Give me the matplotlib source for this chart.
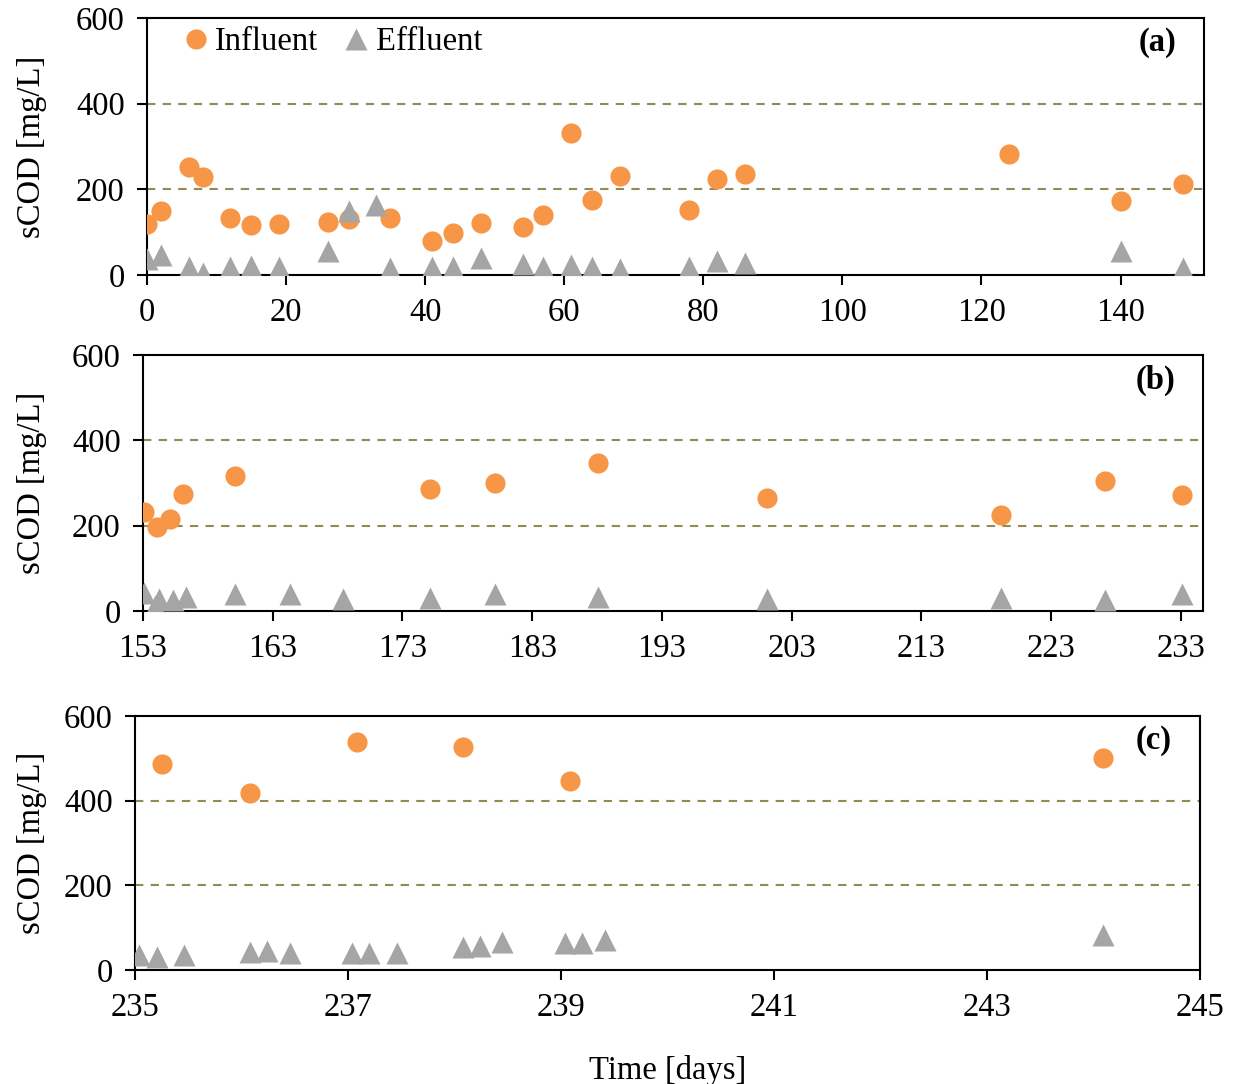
import matplotlib
matplotlib.use("Agg")
import matplotlib.pyplot as plt
import numpy as np

# panel (a): days 0-150
a_inf_day = [0, 2, 6, 8, 12, 15, 19, 26, 29, 35, 41, 44, 48, 54, 57, 61, 64, 68,
             78, 82, 86, 124, 140, 149]
a_inf_val = [119, 150, 253, 228, 133, 117, 119, 123, 130, 132, 79, 97, 121, 112, 140, 331, 174, 232,
             152, 223, 235, 283, 173, 213]
a_eff_day = [0, 2, 6, 8, 12, 15, 19, 26, 29, 33, 35, 41, 44, 48, 54, 57, 61, 64, 68,
             78, 82, 86, 140, 149]
a_eff_val = [37, 47, 18, 4, 19, 21, 19, 55, 150, 164, 16, 19, 19, 39, 26, 18, 23, 18, 13,
             19, 33, 29, 56, 17]

# panel (b): days 153-233
b_inf_day = [153.1, 154.1, 155.1, 156.1, 160.1, 175.1, 180.1, 188.1, 201.1, 219.1, 227.15, 233.1]
b_inf_val = [233, 198, 216, 275, 317, 285, 300, 346, 265, 226, 305, 272]
b_eff_day = [153.1, 153.9, 154.2, 155.3, 156.3, 160.1, 164.3, 168.4, 175.1, 180.1, 188.1,
             201.1, 219.1, 227.15, 233.1]
b_eff_val = [43, 12, 28, 25, 33, 41, 39, 29, 30, 41, 33, 29, 30, 26, 40]

# panel (c): days 235-245
c_inf_day = [235.25, 236.08, 237.08, 238.08, 239.08, 244.09]
c_inf_val = [486, 418, 538, 526, 446, 500]
c_eff_day = [235.04, 235.21, 235.46, 236.08, 236.24, 236.46, 237.04, 237.2, 237.46,
             238.08, 238.24, 238.45, 239.04, 239.2, 239.41, 244.09]
c_eff_val = [35, 31, 35, 42, 46, 39, 40, 39, 39, 54, 57, 65, 63, 63, 72, 83]

panels = [
    ("(a)", a_inf_day, a_inf_val, a_eff_day, a_eff_val, (0, 152), np.arange(0, 141, 20)),
    ("(b)", b_inf_day, b_inf_val, b_eff_day, b_eff_val, (153, 234.7), np.arange(153, 234, 10)),
    ("(c)", c_inf_day, c_inf_val, c_eff_day, c_eff_val, (235, 245), np.arange(235, 246, 2)),
]

ORANGE = "#F79646"
GREY = "#A5A5A5"
GRID = "#948A54"
FS = 23.5

plt.rcParams["font.family"] = ["Liberation Serif", "DejaVu Serif"]
plt.rcParams["font.size"] = FS

W, H = 1235, 1084
fig = plt.figure(figsize=(W / 100, H / 100), dpi=100)

# pixel boxes: left, right, top, bottom
boxes = [(147, 1204, 18, 275), (143, 1203, 355, 611), (135, 1200, 716, 970)]

axes = []
for (label, idays, ivals, edays, evals, xlim, xticks), (l, r, t, b) in zip(panels, boxes):
    ax = fig.add_axes([l / W, 1 - b / H, (r - l) / W, (b - t) / H])
    for yv in (200, 400):
        ax.axhline(yv, color=GRID, ls=(0, (4, 3.5)), lw=1.5, zorder=1)
    ax.plot(idays, ivals, "o", color=ORANGE, ms=14.5, mec="none", label="Influent", zorder=3)
    ax.plot(edays, evals, "^", color=GREY, ms=15.5, mec="none", label="Effluent", zorder=3)
    ax.set_xlim(*xlim)
    ax.set_ylim(0, 600)
    ax.set_xticks(xticks)
    ax.set_yticks([0, 200, 400, 600])
    ax.tick_params(axis="both", direction="out", length=7, width=1.5, pad=9, labelsize=FS)
    ax.tick_params(top=False, right=False)
    for sp in ax.spines.values():
        sp.set_linewidth(1.5)
    ax.set_ylabel("sCOD [mg/L]", fontsize=FS)
    ax.yaxis.set_label_coords((47 - l) / (r - l), 0.5)
    ax.text(1 - 28 / (r - l), 1 - 25 / (b - t), label, transform=ax.transAxes,
            ha="right", va="center", fontsize=FS, fontweight="bold")
    axes.append(ax)

axes[0].legend(loc="upper left", ncol=2, frameon=False, fontsize=FS,
               handletextpad=0.0, columnspacing=0.55, borderaxespad=0.1,
               bbox_to_anchor=(0.012, 1.03), handlelength=1.2)

axes[2].set_xlabel("Time [days]", fontsize=FS)
axes[2].xaxis.set_label_coords(0.5, -(1055 - 970) / (970 - 716))

fig.savefig("out.png", dpi=100)
